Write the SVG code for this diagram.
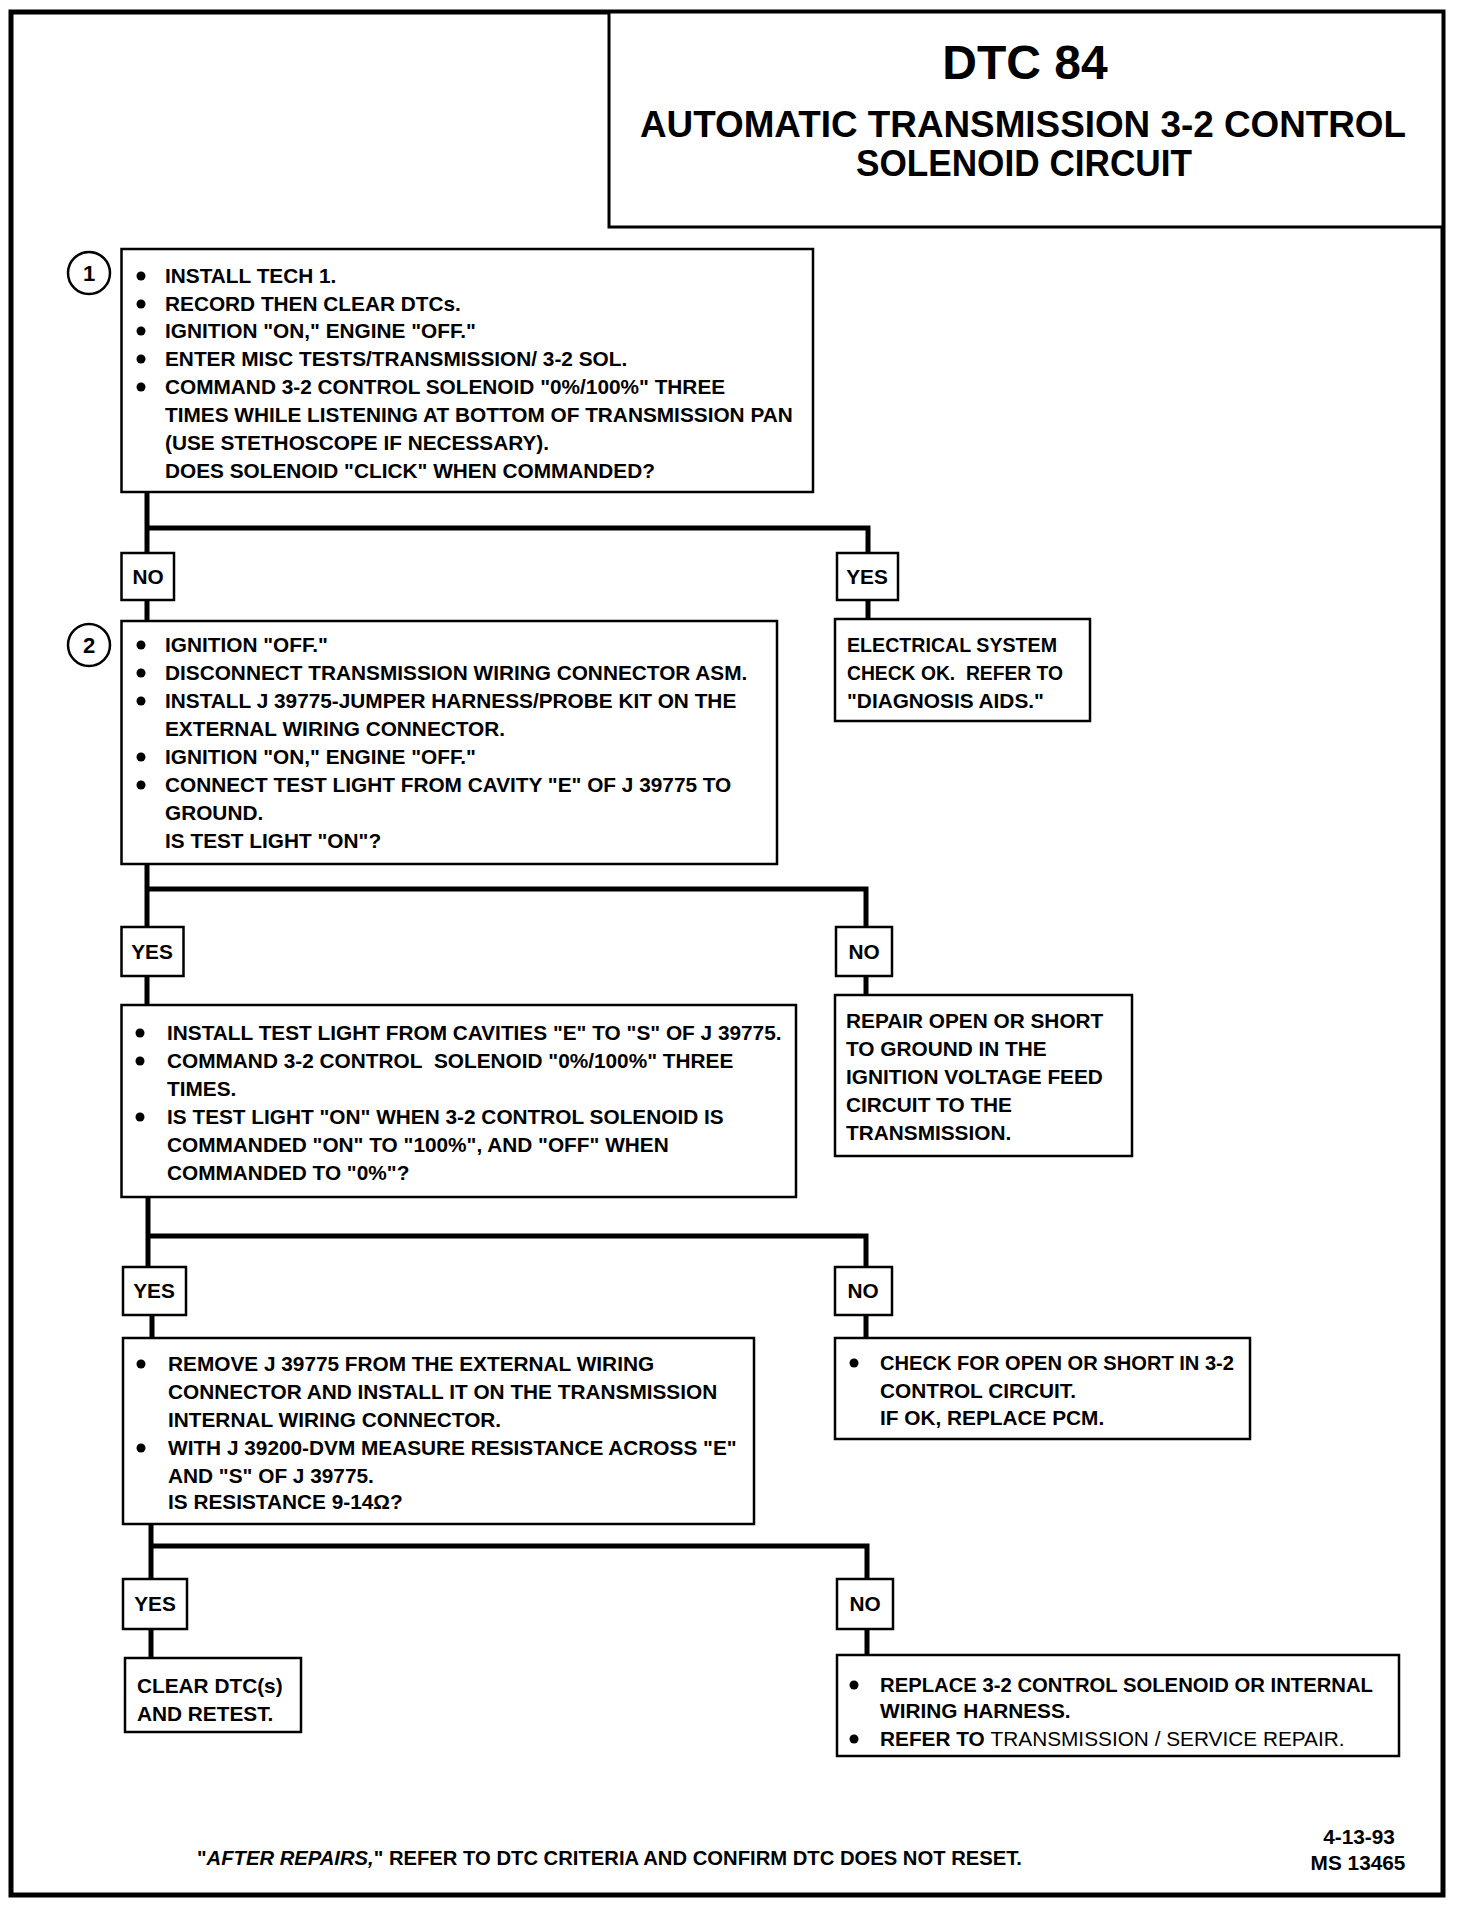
<svg xmlns="http://www.w3.org/2000/svg" width="1472" height="1906" viewBox="0 0 1472 1906">
<style>
.t{font-family:"Liberation Sans",Arial,sans-serif;font-weight:bold;font-size:20.8px;fill:#000}
.c{text-anchor:middle}
.box{fill:#fff;stroke:#000;stroke-width:2.5}
.lbl{fill:#fff;stroke:#000;stroke-width:2.5}
.con{fill:none;stroke:#000;stroke-width:5}
.b{fill:#000}
</style>
<rect width="1472" height="1906" fill="#fff"/>
<rect x="11" y="12" width="1432" height="1883" fill="none" stroke="#000" stroke-width="5"/>
<g id="connectors">
<path class="con" d="M147,492 V553 M147,528 H868 V553 M147,600 V621 M868,600 V619"/>
<path class="con" d="M147,864 V927 M147,889 H866 V927 M147,976 V1005 M866,976 V995"/>
<path class="con" d="M148,1197 V1267 M148,1236 H866 V1267 M152,1315 V1338 M866,1315 V1338"/>
<path class="con" d="M151,1524 V1579 M151,1546 H867 V1579 M151,1629 V1658 M867,1629 V1655"/>
</g>
<g id="title">
<rect x="609" y="12" width="834" height="215" fill="#fff" stroke="#000" stroke-width="3"/>
<text class="t c" x="1025" y="79" style="font-size:48px">DTC 84</text>
<text class="t c" x="1023" y="137" style="font-size:36px" textLength="766" lengthAdjust="spacingAndGlyphs">AUTOMATIC TRANSMISSION 3-2 CONTROL</text>
<text class="t c" x="1024" y="176" style="font-size:36px" textLength="336" lengthAdjust="spacingAndGlyphs">SOLENOID CIRCUIT</text>
</g>
<g id="step1">
<circle cx="89" cy="273" r="21" fill="none" stroke="#000" stroke-width="2.5"/>
<text class="t c" x="89" y="281" style="font-size:22px">1</text>
<rect class="box" x="121.5" y="249" width="691.5" height="243"/>
<circle class="b" cx="141" cy="276" r="4.5"/><text class="t" x="165" y="283">INSTALL TECH 1.</text>
<circle class="b" cx="141" cy="304" r="4.5"/><text class="t" x="165" y="311">RECORD THEN CLEAR DTCs.</text>
<circle class="b" cx="141" cy="331" r="4.5"/><text class="t" x="165" y="338">IGNITION "ON," ENGINE "OFF."</text>
<circle class="b" cx="141" cy="359" r="4.5"/><text class="t" x="165" y="366">ENTER MISC TESTS/TRANSMISSION/ 3-2 SOL.</text>
<circle class="b" cx="141" cy="387" r="4.5"/><text class="t" x="165" y="394">COMMAND 3-2 CONTROL SOLENOID "0%/100%" THREE</text>
<text class="t" x="165" y="422">TIMES WHILE LISTENING AT BOTTOM OF TRANSMISSION PAN</text>
<text class="t" x="165" y="450">(USE STETHOSCOPE IF NECESSARY).</text>
<text class="t" x="165" y="478">DOES SOLENOID "CLICK" WHEN COMMANDED?</text>
</g>
<g id="no1"><rect class="lbl" x="121.5" y="553" width="52.5" height="47"/><text class="t c" x="148" y="584">NO</text></g>
<g id="yes1"><rect class="lbl" x="837" y="553" width="61" height="47"/><text class="t c" x="867" y="584">YES</text></g>
<g id="step2">
<circle cx="89" cy="645" r="21" fill="none" stroke="#000" stroke-width="2.5"/>
<text class="t c" x="89" y="653" style="font-size:22px">2</text>
<rect class="box" x="121.5" y="621" width="655.5" height="243"/>
<circle class="b" cx="141" cy="645" r="4.5"/><text class="t" x="165" y="652">IGNITION "OFF."</text>
<circle class="b" cx="141" cy="673" r="4.5"/><text class="t" x="165" y="680">DISCONNECT TRANSMISSION WIRING CONNECTOR ASM.</text>
<circle class="b" cx="141" cy="701" r="4.5"/><text class="t" x="165" y="708">INSTALL J 39775-JUMPER HARNESS/PROBE KIT ON THE</text>
<text class="t" x="165" y="736">EXTERNAL WIRING CONNECTOR.</text>
<circle class="b" cx="141" cy="757" r="4.5"/><text class="t" x="165" y="764">IGNITION "ON," ENGINE "OFF."</text>
<circle class="b" cx="141" cy="785" r="4.5"/><text class="t" x="165" y="792">CONNECT TEST LIGHT FROM CAVITY "E" OF J 39775 TO</text>
<text class="t" x="165" y="820">GROUND.</text>
<text class="t" x="165" y="848">IS TEST LIGHT "ON"?</text>
</g>
<g id="elec">
<rect class="box" x="835" y="619" width="255" height="102"/>
<text class="t" x="847" y="652" textLength="210" lengthAdjust="spacingAndGlyphs">ELECTRICAL SYSTEM</text>
<text class="t" x="847" y="680" textLength="216" lengthAdjust="spacingAndGlyphs">CHECK OK.&#160; REFER TO</text>
<text class="t" x="847" y="708">"DIAGNOSIS AIDS."</text>
</g>
<g id="yes2"><rect class="lbl" x="121.5" y="927" width="62" height="49"/><text class="t c" x="152" y="959">YES</text></g>
<g id="no2"><rect class="lbl" x="836" y="927" width="56" height="49"/><text class="t c" x="864" y="959">NO</text></g>
<g id="step3">
<rect class="box" x="121.5" y="1005" width="674.5" height="192"/>
<circle class="b" cx="140" cy="1033" r="4.5"/><text class="t" x="167" y="1040">INSTALL TEST LIGHT FROM CAVITIES "E" TO "S" OF J 39775.</text>
<circle class="b" cx="140" cy="1061" r="4.5"/><text class="t" x="167" y="1068">COMMAND 3-2 CONTROL&#160; SOLENOID "0%/100%" THREE</text>
<text class="t" x="167" y="1096">TIMES.</text>
<circle class="b" cx="140" cy="1117" r="4.5"/><text class="t" x="167" y="1124">IS TEST LIGHT "ON" WHEN 3-2 CONTROL SOLENOID IS</text>
<text class="t" x="167" y="1152">COMMANDED "ON" TO "100%", AND "OFF" WHEN</text>
<text class="t" x="167" y="1180">COMMANDED TO "0%"?</text>
</g>
<g id="repair">
<rect class="box" x="835" y="995" width="297" height="161"/>
<text class="t" x="846" y="1028">REPAIR OPEN OR SHORT</text>
<text class="t" x="846" y="1056">TO GROUND IN THE</text>
<text class="t" x="846" y="1084">IGNITION VOLTAGE FEED</text>
<text class="t" x="846" y="1112">CIRCUIT TO THE</text>
<text class="t" x="846" y="1140">TRANSMISSION.</text>
</g>
<g id="yes3"><rect class="lbl" x="123" y="1267" width="63" height="48"/><text class="t c" x="154" y="1298">YES</text></g>
<g id="no3"><rect class="lbl" x="835" y="1267" width="57" height="48"/><text class="t c" x="863" y="1298">NO</text></g>
<g id="step4">
<rect class="box" x="123" y="1338" width="631" height="186"/>
<circle class="b" cx="141" cy="1364" r="4.5"/><text class="t" x="168" y="1371">REMOVE J 39775 FROM THE EXTERNAL WIRING</text>
<text class="t" x="168" y="1399">CONNECTOR AND INSTALL IT ON THE TRANSMISSION</text>
<text class="t" x="168" y="1427">INTERNAL WIRING CONNECTOR.</text>
<circle class="b" cx="141" cy="1448" r="4.5"/><text class="t" x="168" y="1455">WITH J 39200-DVM MEASURE RESISTANCE ACROSS "E"</text>
<text class="t" x="168" y="1483">AND "S" OF J 39775.</text>
<text class="t" x="168" y="1509">IS RESISTANCE 9-14Ω?</text>
</g>
<g id="check">
<rect class="box" x="835" y="1338" width="415" height="101"/>
<circle class="b" cx="854" cy="1363" r="4.5"/><text class="t" x="880" y="1370" textLength="354" lengthAdjust="spacingAndGlyphs">CHECK FOR OPEN OR SHORT IN 3-2</text>
<text class="t" x="880" y="1398">CONTROL CIRCUIT.</text>
<text class="t" x="880" y="1425">IF OK, REPLACE PCM.</text>
</g>
<g id="yes4"><rect class="lbl" x="123" y="1579" width="64" height="50"/><text class="t c" x="155" y="1611">YES</text></g>
<g id="no4"><rect class="lbl" x="837" y="1579" width="56" height="50"/><text class="t c" x="865" y="1611">NO</text></g>
<g id="clear">
<rect class="box" x="125" y="1658" width="176" height="74"/>
<text class="t" x="137" y="1693">CLEAR DTC(s)</text>
<text class="t" x="137" y="1721">AND RETEST.</text>
</g>
<g id="replace">
<rect class="box" x="837" y="1655" width="562" height="101"/>
<circle class="b" cx="854" cy="1685" r="4.5"/><text class="t" x="880" y="1692" textLength="493" lengthAdjust="spacingAndGlyphs">REPLACE 3-2 CONTROL SOLENOID OR INTERNAL</text>
<text class="t" x="880" y="1718">WIRING HARNESS.</text>
<circle class="b" cx="854" cy="1739" r="4.5"/><text class="t" x="880" y="1746">REFER TO <tspan style="font-weight:normal">TRANSMISSION / SERVICE REPAIR.</tspan></text>
</g>
<g id="footer">
<text class="t" x="197" y="1865" textLength="825" lengthAdjust="spacingAndGlyphs">"<tspan font-style="italic">AFTER REPAIRS,</tspan>" REFER TO DTC CRITERIA AND CONFIRM DTC DOES NOT RESET.</text>
<text class="t c" x="1359" y="1844">4-13-93</text>
<text class="t c" x="1358" y="1870">MS 13465</text>
</g>
</svg>
